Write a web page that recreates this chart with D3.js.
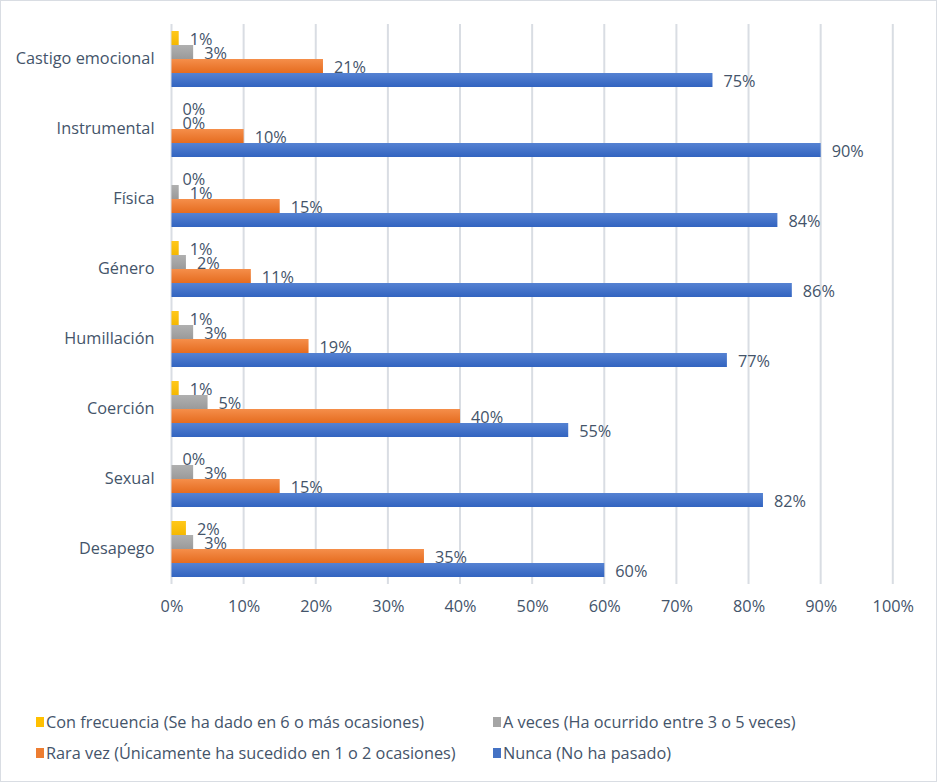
<!DOCTYPE html>
<html><head><meta charset="utf-8">
<script src="https://cdn.jsdelivr.net/npm/d3@7"></script>
<style>body{margin:0;background:#fff}svg{display:block}text{font-family:"Open Sans",sans-serif}</style>
</head><body><svg id="c" width="938" height="783"></svg>
<script>
const categories = ["Castigo emocional","Instrumental","Física","Género","Humillación","Coerción","Sexual","Desapego"];
const seriesNames = ["Con frecuencia (Se ha dado en 6 o más ocasiones)","A veces (Ha ocurrido entre 3 o 5 veces)","Rara vez (Únicamente ha sucedido en 1 o 2 ocasiones)","Nunca (No ha pasado)"];
const conFrecuencia = [1,0,0,1,1,1,0,2];
const aVeces = [3,0,1,2,3,5,3,3];
const raraVez = [21,10,15,11,19,40,15,35];
const nunca = [75,90,84,86,77,55,82,60];
const ticks = [0,10,20,30,40,50,60,70,80,90,100];
const colors = ["#FFC000","#A5A5A5","#ED7D31","#4472C4"];
const gradTop = ["#FFC81A","#B0B0B0","#F58E4A","#5582D2"];
const gradBot = ["#F5B800","#9A9A9A","#E56C1F","#3264C0"];
const series = [conFrecuencia,aVeces,raraVez,nunca];

const FONT = '"Open Sans",sans-serif';
const FS = 16.3;
const svg = d3.select("#c");
const txt = "#44546A";
svg.append("rect").attr("x",0.5).attr("y",0.5).attr("width",936).attr("height",781).attr("fill","#fff").attr("stroke","#D9DDE3");

const defs = svg.append("defs");
colors.forEach((c,i)=>{
  const g = defs.append("linearGradient").attr("id","g"+i).attr("x1",0).attr("x2",0).attr("y1",0).attr("y2",1);
  g.append("stop").attr("offset","0%").attr("stop-color",gradTop[i]);
  g.append("stop").attr("offset","100%").attr("stop-color",gradBot[i]);
});

const x = d3.scaleLinear().domain([0,100]).range([171.5,892.8]);
const y = d3.scaleBand().domain(categories).range([24,584]).paddingInner(0.2).paddingOuter(0.1);
const ySub = d3.scaleBand().domain(d3.range(4)).range([0,y.bandwidth()]);

// gridlines
svg.append("g").selectAll("line").data(ticks).join("line")
  .attr("x1",d=>x(d)).attr("x2",d=>x(d)).attr("y1",24).attr("y2",584)
  .attr("stroke","#D9DDE3").attr("stroke-width",2);

// axis tick labels
const ax = svg.append("g").attr("transform","translate(0,584)")
  .call(d3.axisBottom(x).tickValues(ticks).tickFormat(d=>d+"%").tickSize(0).tickPadding(16));
ax.select(".domain").remove();
ax.selectAll("text").attr("fill",txt).attr("font-size",FS).attr("font-family",FONT);

// category labels
const ay = svg.append("g").attr("transform","translate(171.5,0)")
  .call(d3.axisLeft(y).tickSize(0).tickPadding(17));
ay.select(".domain").remove();
ay.selectAll("text").attr("fill",txt).attr("font-size",FS).attr("font-family",FONT);

// bars
series.forEach((vals,si)=>{
  const g = svg.append("g");
  g.selectAll("rect").data(vals).join("rect")
    .attr("x",x(0)).attr("y",(d,i)=>y(categories[i])+ySub(si))
    .attr("width",d=>x(d)-x(0)).attr("height",ySub.bandwidth())
    .attr("fill","url(#g"+si+")");
  g.selectAll("text").data(vals).join("text")
    .attr("x",d=>x(d)+11).attr("y",(d,i)=>y(categories[i])+ySub(si)+ySub.bandwidth()/2)
    .attr("dy","0.4em").attr("fill",txt).attr("font-size",FS).text(d=>d+"%");
});

// legend
const legend = [
  {i:0,x:36,y:722},{i:1,x:493,y:722},{i:2,x:36,y:753},{i:3,x:493,y:753}
];
const lg = svg.append("g").selectAll("g").data(legend).join("g")
  .attr("transform",d=>`translate(${d.x},${d.y})`);
lg.append("rect").attr("x",0).attr("y",-5).attr("width",8).attr("height",10).attr("fill",d=>colors[d.i]);
lg.append("text").attr("x",10).attr("dy","0.35em").attr("fill",txt).attr("font-size",FS).text(d=>seriesNames[d.i]);
</script></body></html>
